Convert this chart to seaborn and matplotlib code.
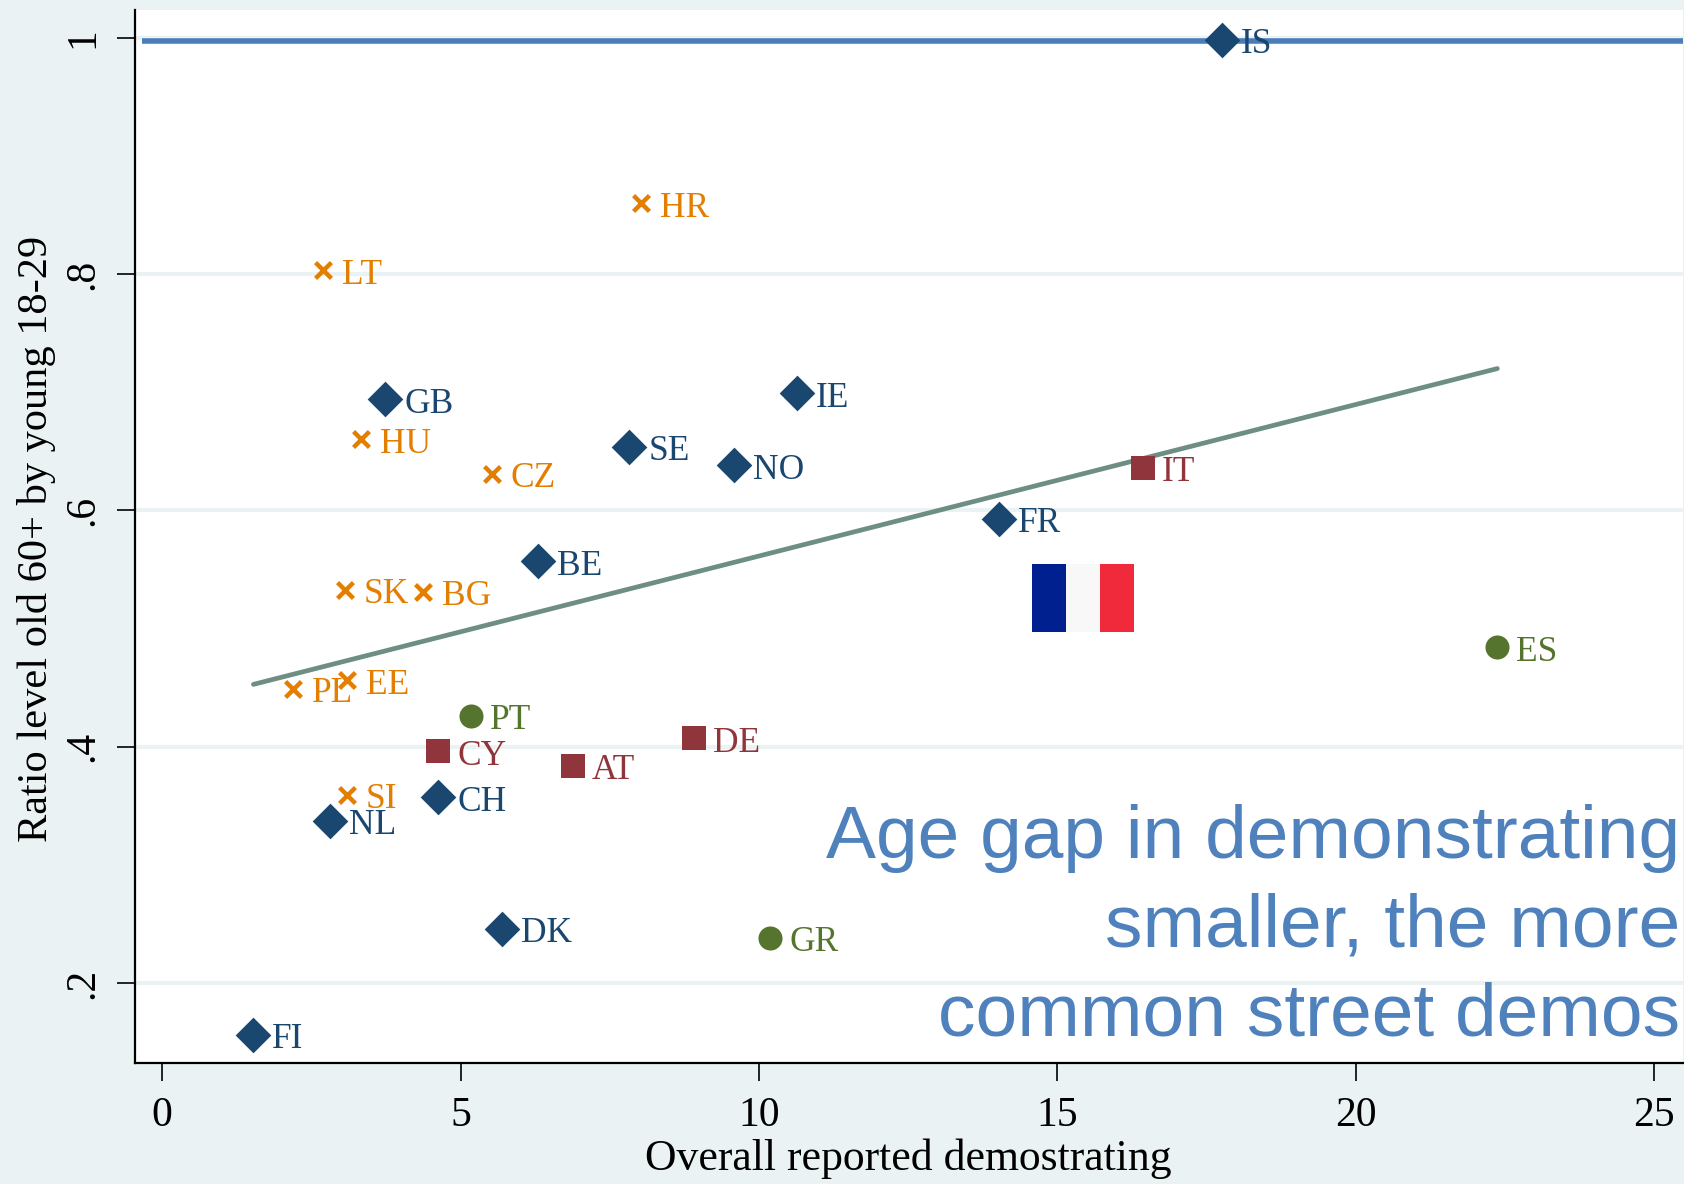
import pandas as pd
import seaborn as sns
import matplotlib.pyplot as plt
from matplotlib.patches import Rectangle

# datos
north_codes = ['IS', 'FR', 'IE', 'NO', 'SE', 'BE', 'GB', 'CH', 'NL', 'DK', 'FI']
north_x = [17.75, 14.02, 10.64, 9.58, 7.83, 6.30, 3.74, 4.63, 2.81, 5.70, 1.53]
north_y = [0.998, 0.593, 0.699, 0.638, 0.654, 0.557, 0.694, 0.357, 0.337, 0.246, 0.156]

east_codes = ['HR', 'LT', 'HU', 'CZ', 'SK', 'BG', 'EE', 'PL', 'SI']
east_x = [8.03, 2.70, 3.33, 5.53, 3.06, 4.37, 3.10, 2.20, 3.10]
east_y = [0.860, 0.803, 0.660, 0.631, 0.533, 0.531, 0.456, 0.449, 0.359]

central_codes = ['IT', 'DE', 'CY', 'AT']
central_x = [16.44, 8.91, 4.63, 6.89]
central_y = [0.636, 0.407, 0.396, 0.384]

south_codes = ['ES', 'PT', 'GR']
south_x = [22.37, 5.18, 10.19]
south_y = [0.484, 0.426, 0.238]

fit_x = [1.53, 22.37]
fit_y = [0.4527, 0.720]

x_ticks = [0, 5, 10, 15, 20, 25]
y_ticks = [0.2, 0.4, 0.6, 0.8, 1.0]
y_tick_labels = ['.2', '.4', '.6', '.8', '1']

flag_edges = [14.57, 15.14, 15.71, 16.28]
flag_colors = ['#00208F', '#F8F8F8', '#F02A3A']

BG = '#EAF2F3'
NAVY = '#1A476F'
ORANGE = '#E37E00'
RED = '#90353B'
GREEN = '#55752F'

df = pd.concat([
    pd.DataFrame({'code': north_codes, 'x': north_x, 'y': north_y, 'grupo': 'north'}),
    pd.DataFrame({'code': east_codes, 'x': east_x, 'y': east_y, 'grupo': 'east'}),
    pd.DataFrame({'code': central_codes, 'x': central_x, 'y': central_y, 'grupo': 'central'}),
    pd.DataFrame({'code': south_codes, 'x': south_x, 'y': south_y, 'grupo': 'south'}),
])
palette = {'north': NAVY, 'east': ORANGE, 'central': RED, 'south': GREEN}

sns.set_theme(style='white')
plt.rcParams['font.family'] = ['Liberation Serif', 'DejaVu Serif']

W, H = 1684, 1184
fig = plt.figure(figsize=(W / 100, H / 100), dpi=100, facecolor=BG)
ax = fig.add_axes([134.5 / W, 1 - 1062.7 / H, (1683 - 134.5) / W, (1062.7 - 9.5) / H])
ax.set_facecolor('white')

# Lineas de fondo
ax.set_axisbelow(True)
ax.yaxis.grid(True, color=BG, lw=3)
ax.xaxis.grid(False)

ax.hlines(0.9975, -0.33, 25.6, color='#4A7EBB', lw=4, zorder=2)
sns.lineplot(x=fit_x, y=fit_y, color='#6E8E84', lw=3.4, ax=ax, zorder=2)

sizes = {'north': 330, 'east': 130, 'central': 290, 'south': 300}
markers = {'north': 'D', 'east': 'x', 'central': 's', 'south': 'o'}
for grupo, sub in df.groupby('grupo'):
    sns.scatterplot(data=sub, x='x', y='y', color=palette[grupo], marker=markers[grupo], s=sizes[grupo],
                    linewidth=3.2 if grupo == 'east' else 0, legend=False, ax=ax, zorder=3)
    for _, row in sub.iterrows():
        ax.annotate(row['code'], (row['x'], row['y']), xytext=(13.5, -3.5), textcoords='offset points',
                    ha='left', va='center', fontsize=25.5, color=palette[grupo], zorder=4)

# Bandera
for i, c in enumerate(flag_colors):
    ax.add_patch(Rectangle((flag_edges[i], 0.497), flag_edges[i + 1] - flag_edges[i], 0.058,
                           facecolor=c, edgecolor='none', zorder=3))

ax.text(25.43, 0.247, 'Age gap in demonstrating\nsmaller, the more\ncommon street demos',
        ha='right', va='center', fontsize=54, color='#4F81BD', family='Liberation Sans',
        linespacing=1.36, zorder=5)

ax.set_xlim(-0.462, 25.48)
ax.set_ylim(0.1325, 1.0239)
ax.set_xticks(x_ticks)
ax.set_yticks(y_ticks)
ax.set_yticklabels(y_tick_labels, rotation=90, va='center')
ax.tick_params(axis='both', length=13, width=1.2, color='black', labelsize=30, labelcolor='black', left=True, bottom=True)
ax.tick_params(axis='x', pad=11)
ax.tick_params(axis='y', pad=10)

sns.despine(ax=ax, top=True, right=True)
for lado in ['left', 'bottom']:
    ax.spines[lado].set_color('black')
    ax.spines[lado].set_linewidth(1.6)

ax.set_xlabel('Overall reported demostrating', fontsize=31.5, color='black')
ax.set_ylabel('Ratio level old 60+ by young 18-29', fontsize=30.5, color='black')
ax.xaxis.set_label_coords((908 - 134.5) / (1683 - 134.5), -(1159 - 1062.7) / (1062.7 - 9.5), transform=ax.transAxes)
ax.yaxis.set_label_coords(-(134.5 - 37) / (1683 - 134.5), (1062.7 - 539) / (1062.7 - 9.5), transform=ax.transAxes)
ax.xaxis.label.set_va('center')
ax.yaxis.label.set_va('center')

fig.savefig('out.png', dpi=100, facecolor=BG)
plt.close(fig)
